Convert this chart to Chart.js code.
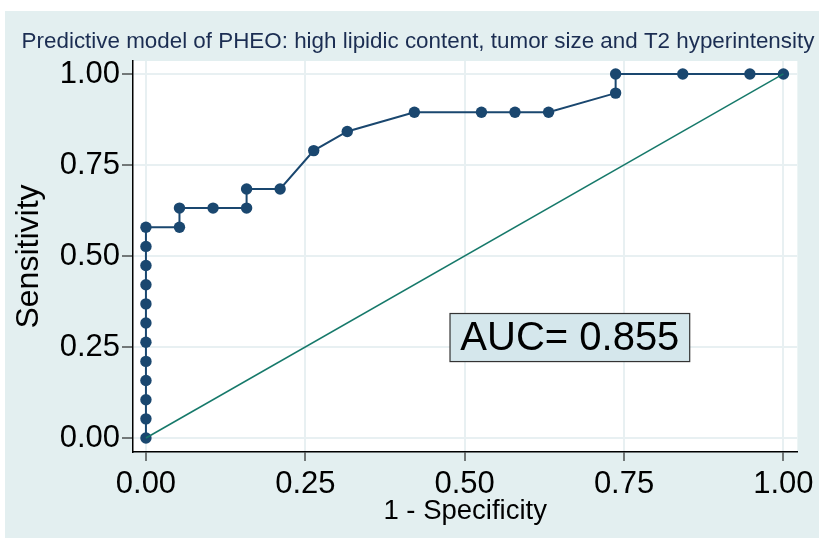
<!DOCTYPE html>
<html>
<head>
<meta charset="utf-8">
<script src="https://cdn.jsdelivr.net/npm/chart.js@4/dist/chart.umd.min.js"></script>
<style>
  html, body { margin: 0; padding: 0; background: #fff; }
  #wrap { width: 819px; height: 540px; }
</style>
</head>
<body>
<div id="wrap"><canvas id="roc" width="819" height="540"></canvas></div>
<script>
// ROC points (1 - specificity, sensitivity)
const fpr = [0, 0, 0, 0, 0, 0, 0, 0, 0, 0, 0, 0,
  0.0526, 0.0526, 0.1053, 0.1579, 0.1579, 0.2105, 0.2632, 0.3158,
  0.4211, 0.5263, 0.5789, 0.6316, 0.7368, 0.7368, 0.8421, 0.9474, 1];
const tpr = [0, 0.0526, 0.1053, 0.1579, 0.2105, 0.2632, 0.3158, 0.3684, 0.4211, 0.4737, 0.5263, 0.5789,
  0.5789, 0.6316, 0.6316, 0.6316, 0.6842, 0.6842, 0.7895, 0.8421,
  0.8947, 0.8947, 0.8947, 0.8947, 0.9474, 1, 1, 1, 1];
const refX = [0, 1];
const refY = [0, 1];
const tickValues = [0, 0.25, 0.5, 0.75, 1];
const titleText = 'Predictive model of PHEO: high lipidic content, tumor size and T2 hyperintensity';
const aucText = 'AUC= 0.855';

const sans = "'Liberation Sans', Arial, sans-serif";

const background = {
  id: 'background',
  beforeDraw(chart) {
    const ctx = chart.ctx;
    ctx.save();
    ctx.fillStyle = '#ffffff';
    ctx.fillRect(0, 0, chart.width, chart.height);
    ctx.fillStyle = '#e3eff0';
    ctx.fillRect(5, 11, chart.width - 5, 527);
    const a = chart.chartArea;
    ctx.fillStyle = '#ffffff';
    ctx.fillRect(a.left, a.top, a.right - a.left, a.bottom - a.top);
    // title
    ctx.fillStyle = '#1b2d52';
    ctx.font = "22.4px " + sans;
    ctx.textAlign = 'center';
    ctx.textBaseline = 'middle';
    ctx.fillText(titleText, 418, 42);
    ctx.restore();
  }
};

const aucBox = {
  id: 'aucBox',
  afterDatasetsDraw(chart) {
    const ctx = chart.ctx;
    const x = chart.scales.x, y = chart.scales.y;
    const l = x.getPixelForValue(0.477), r = x.getPixelForValue(0.853);
    const t = y.getPixelForValue(0.342), b = y.getPixelForValue(0.210);
    ctx.save();
    ctx.fillStyle = '#d5e7ec';
    ctx.fillRect(l, t, r - l, b - t);
    ctx.strokeStyle = '#333333';
    ctx.lineWidth = 1.2;
    ctx.strokeRect(l, t, r - l, b - t);
    ctx.fillStyle = '#000';
    ctx.font = "40px " + sans;
    ctx.textAlign = 'center';
    ctx.textBaseline = 'middle';
    ctx.fillText(aucText, (l + r) / 2, (t + b) / 2 + 1);
    ctx.restore();
  }
};

new Chart(document.getElementById('roc'), {
  type: 'line',
  data: {
    datasets: [
      {
        label: 'Reference',
        data: refX.map((v, i) => ({ x: v, y: refY[i] })),
        borderColor: '#16796a',
        borderWidth: 1.5,
        pointRadius: 0,
        fill: false
      },
      {
        label: 'ROC',
        data: fpr.map((v, i) => ({ x: v, y: tpr[i] })),
        borderColor: '#1a476f',
        backgroundColor: '#1a476f',
        borderWidth: 2,
        pointRadius: 5.7,
        pointBorderWidth: 0,
        fill: false,
        tension: 0
      }
    ]
  },
  options: {
    responsive: false,
    animation: false,
    layout: { padding: { top: 61, right: 20, left: 0, bottom: 0 } },
    plugins: { legend: { display: false }, tooltip: { enabled: false } },
    scales: {
      x: {
        type: 'linear',
        min: -0.0203,
        max: 1.0219,
        afterFit(s) { s.height = 88; },
        afterBuildTicks(s) { s.ticks = tickValues.map(v => ({ value: v })); },
        ticks: {
          color: '#000',
          font: { size: 31, family: sans },
          padding: 5,
          maxRotation: 0,
          callback: v => v.toFixed(2)
        },
        grid: { color: '#e8f0f2', lineWidth: 2, tickColor: '#000', tickLength: 9, tickWidth: 1 },
        border: { color: '#000', width: 1.5 },
        title: {
          display: true,
          text: '1 - Specificity',
          color: '#000',
          font: { size: 27.5, family: sans },
          padding: { top: 0, bottom: 12 }
        }
      },
      y: {
        type: 'linear',
        min: -0.0384,
        max: 1.0356,
        afterFit(s) { s.width = 133; },
        afterBuildTicks(s) { s.ticks = tickValues.map(v => ({ value: v })); },
        ticks: {
          color: '#000',
          font: { size: 31, family: sans },
          padding: 2,
          callback: v => v.toFixed(2)
        },
        grid: { color: '#e8f0f2', lineWidth: 2, tickColor: '#000', tickLength: 11, tickWidth: 1 },
        border: { color: '#000', width: 1.5 },
        title: {
          display: true,
          text: 'Sensitivity',
          color: '#000',
          font: { size: 32, family: sans },
          padding: { top: 10, bottom: 0 }
        }
      }
    }
  },
  plugins: [background, aucBox]
});
</script>
</body>
</html>
